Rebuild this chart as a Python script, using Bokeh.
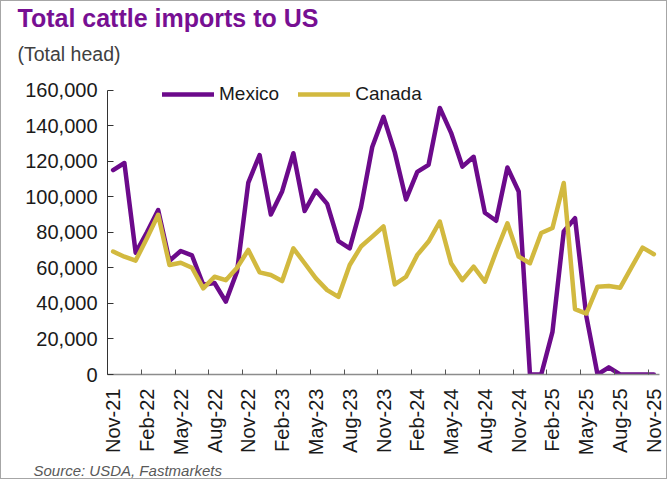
from bokeh.plotting import figure
from bokeh.models import Legend, LegendItem, FixedTicker, NumeralTickFormatter, Range1d, Title
from bokeh.embed import file_html
from bokeh.resources import INLINE

# ---- data (monthly, Nov-21 .. Nov-25) ----
tick_labels = ["Nov-21", "Feb-22", "May-22", "Aug-22", "Nov-22", "Feb-23", "May-23", "Aug-23",
               "Nov-23", "Feb-24", "May-24", "Aug-24", "Nov-24", "Feb-25", "May-25", "Aug-25", "Nov-25"]
mexico = [115000, 119000, 68500, 80000, 92500, 64000, 69500, 67000, 50500, 51500, 41000, 58000,
          108000, 123500, 90000, 103000, 124500, 92000, 103500, 96000, 75000, 71000, 94000, 128000,
          145000, 125000, 98500, 114000, 118000, 150000, 136000, 117000, 122500, 91000, 86500, 116500,
          103000, 0, 0, 24000, 80500, 88000, 33000, 0, 4000, 0, 0, 0, 0]
canada = [69200, 66300, 64100, 76700, 89900, 61600, 62900, 60100, 48500, 55000, 53100, 60100,
          70100, 57500, 56000, 52600, 71000, 62600, 54100, 47500, 43700, 61600, 72000, 77600,
          83300, 50700, 55000, 67300, 74800, 86100, 62600, 53100, 60700, 52200, 69200, 85100,
          66300, 62600, 79600, 82400, 107800, 36800, 34300, 49400, 49800, 48800, 60100, 71400, 67700]
series_names = ["Mexico", "Canada"]

x = list(range(len(mexico)))

W, H = 667, 479
ML, MR, MT, MB = 106, 9, 78, 106

p = figure(width=W, height=H, x_range=Range1d(-0.5, len(x) - 0.5), y_range=Range1d(0, 166000),
           output_backend="svg", toolbar_location=None, title=None,
           min_border_left=ML, min_border_right=MR, min_border_top=MT, min_border_bottom=MB)
p.styles = {"border": "1px solid #a6a6a6"}
p.outline_line_color = None
p.xgrid.grid_line_color = None
p.ygrid.grid_line_color = None
p.background_fill_color = "white"
p.border_fill_color = "white"

PURPLE = "#6c0a8b"
GOLD = "#d2b93f"
FONT = "Liberation Sans"

r1 = p.line(x, mexico, line_width=4.5, color=PURPLE, line_join="round", line_cap="round")
r2 = p.line(x, canada, line_width=4.5, color=GOLD, line_join="round", line_cap="round")

# x axis: labels on every 3rd month, tick marks between categories
label_pos = list(range(0, len(x), 3))
xt = FixedTicker(ticks=label_pos, minor_ticks=[v - 0.5 for v in label_pos])
p.xaxis.ticker = xt
p.xaxis.major_label_overrides = {k: lab for k, lab in zip(label_pos, tick_labels)}
p.xaxis.major_label_orientation = 3.14159265 / 2
p.xaxis.major_tick_line_color = None
p.xaxis.minor_tick_in = 5
p.xaxis.minor_tick_out = 0
p.xaxis.minor_tick_line_color = "#555555"
p.xaxis.axis_line_color = "#8c8c8c"
p.xaxis.axis_line_width = 1.5
p.xaxis.major_label_standoff = 8
p.xaxis.major_label_text_font = FONT
p.xaxis.major_label_text_font_size = "20px"
p.xaxis.major_label_text_color = "#1a1a1a"

# y axis
p.yaxis.ticker = FixedTicker(ticks=list(range(0, 160001, 20000)))
p.yaxis.bounds = (0, 160000)
p.yaxis.formatter = NumeralTickFormatter(format="0,0")
p.yaxis.major_tick_in = 6
p.yaxis.major_tick_out = 0
p.yaxis.minor_tick_line_color = None
p.yaxis.axis_line_color = "#333333"
p.yaxis.major_tick_line_color = "#333333"
p.yaxis.major_label_standoff = 10
p.yaxis.major_label_text_font = FONT
p.yaxis.major_label_text_font_size = "20px"
p.yaxis.major_label_text_color = "#1a1a1a"

legend = Legend(items=[LegendItem(label=series_names[0], renderers=[r1]),
                       LegendItem(label=series_names[1], renderers=[r2])],
                location=(55, 269), orientation="horizontal",
                glyph_width=52, glyph_height=20, label_height=20, label_standoff=5, spacing=19,
                padding=0, margin=0, border_line_color=None, background_fill_alpha=0,
                label_text_font=FONT, label_text_font_size="19px", label_text_color="#1a1a1a")
p.add_layout(legend, "center")

# titles (subtitle nearest the frame, main title above it)
p.add_layout(Title(text="(Total head)", align="left", offset=-90, standoff=30,
                   text_font=FONT, text_font_size="19.5px", text_font_style="normal",
                   text_color="#404040"), "above")
p.add_layout(Title(text="Total cattle imports to US", align="left", offset=-90, standoff=-13,
                   text_font=FONT, text_font_size="25px", text_font_style="bold",
                   text_color="#770f93"), "above")
p.add_layout(Title(text="Source: USDA, Fastmarkets", align="left", offset=-74, standoff=2,
                   text_font=FONT, text_font_size="15px", text_font_style="italic",
                   text_color="#595959"), "below")

open("out.html", "w").write(file_html(p, INLINE))
